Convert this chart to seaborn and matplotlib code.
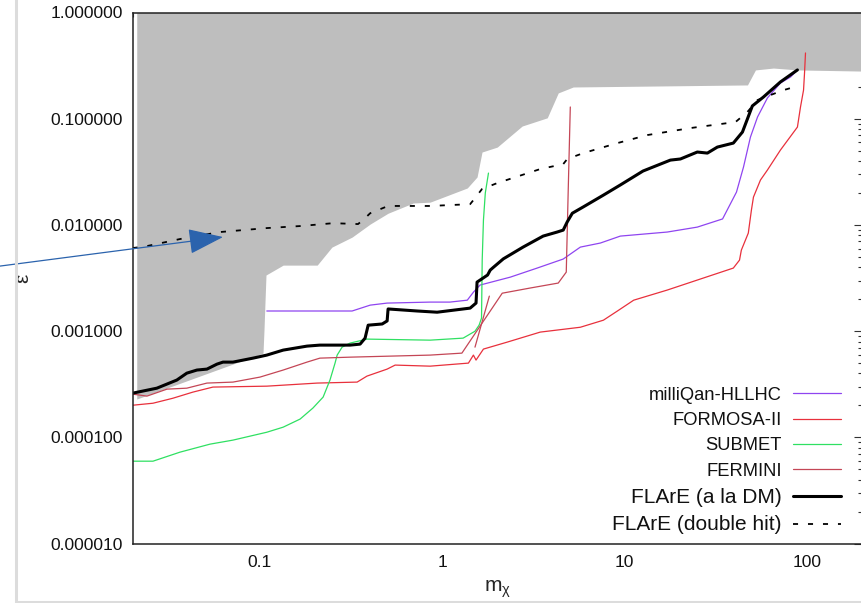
import numpy as np
import matplotlib
matplotlib.use("Agg")
import matplotlib.pyplot as plt
from matplotlib.ticker import LogLocator, NullFormatter
from matplotlib.lines import Line2D
import seaborn as sns

# ---------------------------------------------------------------- data
# already-excluded region (grey): lower boundary, filled up to eps = 1
excl_mass = [0.0211, 0.1039, 0.1052, 0.1065, 0.1079, 0.134, 0.206, 0.248, 0.320,
             0.402, 0.504, 0.692, 0.857, 1.37, 1.55, 1.65, 2.00, 2.74, 3.76, 4.32,
             5.22, 47.1, 52.1, 65.4, 88.5, 200.0]
excl_eps = [0.000230, 0.000622, 0.00102, 0.00184, 0.00338, 0.00419, 0.00419,
            0.00619, 0.00769, 0.0102, 0.0129, 0.0161, 0.0164, 0.0223, 0.0283,
            0.0486, 0.0541, 0.0854, 0.102, 0.175, 0.199, 0.208, 0.288, 0.300,
            0.288, 0.281]

milliqan_mass = [0.109, 0.320, 0.402, 0.498, 0.857, 1.10, 1.37, 1.48, 1.61, 2.36,
                 3.31, 4.60, 5.71, 7.35, 9.46, 17.1, 25.0, 34.4, 41.0, 44.8, 48.9,
                 53.5, 60.6, 71.4, 81.1, 88.5]
milliqan_eps = [0.00155, 0.00155, 0.00176, 0.00184, 0.00188, 0.00188, 0.00196,
                0.00233, 0.00272, 0.00323, 0.00393, 0.00478, 0.00619, 0.00676,
                0.00786, 0.00858, 0.00955, 0.0114, 0.0204, 0.0351, 0.0672, 0.104,
                0.157, 0.217, 0.247, 0.288]

formosa_mass = [0.020, 0.0259, 0.0333, 0.0428, 0.0552, 0.109, 0.206, 0.341, 0.386,
                0.498, 0.551, 0.857, 1.39, 1.48, 1.53, 1.68, 2.27, 3.44, 5.71, 7.64,
                9.12, 11.2, 17.1, 26.0, 39.4, 42.6, 43.6, 47.6, 49.5, 50.8, 55.5,
                60.6, 71.4, 88.5, 92.0, 95.6, 96.8, 98.0]
formosa_eps = [0.000201, 0.000210, 0.000234, 0.000267, 0.000298, 0.000304,
               0.000325, 0.000332, 0.000378, 0.000440, 0.000480, 0.000469,
               0.000501, 0.000596, 0.000535, 0.000679, 0.000790, 0.000981,
               0.00109, 0.00127, 0.00155, 0.00196, 0.00244, 0.00310, 0.00393,
               0.00467, 0.00580, 0.00839, 0.0138, 0.0183, 0.0265, 0.0329, 0.0507,
               0.0835, 0.129, 0.186, 0.269, 0.416]

submet_mass = [0.020, 0.0259, 0.0364, 0.0532, 0.0711, 0.109, 0.134, 0.166, 0.195,
               0.222, 0.242, 0.258, 0.265, 0.282, 0.312, 0.386, 0.857, 1.30, 1.51,
               1.59, 1.64, 1.654, 1.68, 1.72, 1.79]
submet_eps = [0.0000598, 0.0000598, 0.0000727, 0.0000865, 0.0000944, 0.000112,
              0.000125, 0.000149, 0.000189, 0.000240, 0.000347, 0.000501,
              0.000596, 0.000708, 0.000773, 0.000843, 0.000824, 0.000861,
              0.00100, 0.00114, 0.00133, 0.00467, 0.0111, 0.0200, 0.0308]

fermini_mass = [0.020, 0.0240, 0.0309, 0.0397, 0.0512, 0.0711, 0.100, 0.134, 0.181,
                0.213, 0.312, 0.857, 1.28, 2.13, 3.03, 4.32, 4.78, 4.90, 5.03]
fermini_eps = [0.000256, 0.000245, 0.000285, 0.000291, 0.000325, 0.000332,
               0.000370, 0.000431, 0.000512, 0.000558, 0.000570, 0.000596,
               0.000622, 0.00228, 0.00255, 0.00284, 0.00360, 0.0213, 0.129]
fermini_branch_mass = [1.51, 1.81]
fermini_branch_eps = [0.000708, 0.00214]

flare_dm_mass = [0.020, 0.0272, 0.0350, 0.0397, 0.0451, 0.0512, 0.0581, 0.0627,
                 0.0711, 0.0916, 0.109, 0.134, 0.181, 0.213, 0.312, 0.354, 0.377,
                 0.392, 0.468, 0.498, 0.504, 0.728, 0.936, 1.42, 1.53, 1.55, 1.77,
                 1.83, 1.90, 2.16, 2.77, 3.57, 4.26, 4.60, 4.84, 5.16, 5.93, 7.64,
                 9.46, 12.6, 17.8, 20.2, 25.0, 28.4, 32.2, 39.4, 44.2, 50.1, 57.6,
                 71.4, 88.5]
flare_dm_eps = [0.000261, 0.000291, 0.000347, 0.000403, 0.000431, 0.000440,
                0.000490, 0.000512, 0.000512, 0.000558, 0.000596, 0.000664,
                0.000724, 0.000740, 0.000740, 0.000756, 0.000861, 0.00114,
                0.00117, 0.00125, 0.00162, 0.00155, 0.00151, 0.00165, 0.00184,
                0.00290, 0.00338, 0.00376, 0.00398, 0.00480, 0.00619, 0.00786,
                0.00858, 0.00895, 0.0107, 0.0129, 0.0148, 0.0191, 0.0238, 0.0322,
                0.0408, 0.0418, 0.0486, 0.0475, 0.0541, 0.0590, 0.0749, 0.132,
                0.160, 0.222, 0.288]

flare_dh_mass = [0.020, 0.0240, 0.0364, 0.0603, 0.109, 0.166, 0.252, 0.345, 0.377,
                 0.402, 0.504, 0.857, 1.42, 1.51, 1.65, 2.00, 3.44, 4.60, 4.84,
                 5.93, 9.12, 13.3, 22.9, 40.5, 47.1, 53.5, 62.9, 74.3, 88.5]
flare_dh_eps = [0.00606, 0.00633, 0.00737, 0.00858, 0.00935, 0.00977, 0.0104,
                0.0102, 0.0116, 0.0129, 0.0151, 0.0151, 0.0157, 0.0179, 0.0218,
                0.0248, 0.0336, 0.0374, 0.0418, 0.0475, 0.0590, 0.0702, 0.0817,
                0.0931, 0.116, 0.150, 0.167, 0.186, 0.203]

x_ticks = [0.1, 1, 10, 100]
x_tick_labels = ["0.1", "1", "10", "100"]
y_ticks = [1e-5, 1e-4, 1e-3, 1e-2, 1e-1, 1.0]
y_tick_labels = ["0.000010", "0.000100", "0.001000", "0.010000", "0.100000", "1.000000"]

arrow_tail = (0.00374, 0.0041)
arrow_tip = (0.0627, 0.0077)

# ---------------------------------------------------------------- style
sns.set_style("white")
plt.rcParams["font.family"] = ["Liberation Sans", "DejaVu Sans"]
plt.rcParams["mathtext.fontset"] = "custom"
plt.rcParams["mathtext.rm"] = "Liberation Sans"
plt.rcParams["mathtext.it"] = "Liberation Sans"

W, H = 861, 603
fig = plt.figure(figsize=(W / 100, H / 100), dpi=100)
fig.patch.set_facecolor("white")
ax = fig.add_axes([132.5 / W, (H - 543.7) / H, (862 - 132.5) / W, (543.7 - 12.5) / H])
ax.set_facecolor("white")

ax.set_xscale("log")
ax.set_yscale("log")
ax.set_xlim(0.02, 200)
ax.set_ylim(1e-5, 1.0)

# grey excluded region, drawn above the axis ticks
ax.set_axisbelow(True)
ax.fill_between(excl_mass, excl_eps, 1.0, color="#bebebe", lw=0, zorder=1)

line_kw = dict(ax=ax, estimator=None, sort=False)
sns.lineplot(x=milliqan_mass, y=milliqan_eps, color="#8f45f0", lw=0.9,
             label="milliQan-HLLHC", zorder=2, **line_kw)
sns.lineplot(x=formosa_mass, y=formosa_eps, color="#e8303c", lw=0.9,
             label="FORMOSA-II", zorder=2, **line_kw)
sns.lineplot(x=submet_mass, y=submet_eps, color="#2fe062", lw=0.9,
             label="SUBMET", zorder=2, **line_kw)
sns.lineplot(x=fermini_mass, y=fermini_eps, color="#c44656", lw=0.9,
             label="FERMINI", zorder=2, **line_kw)
sns.lineplot(x=fermini_branch_mass, y=fermini_branch_eps, color="#c44656", lw=0.9,
             zorder=2, **line_kw)
sns.lineplot(x=flare_dm_mass, y=flare_dm_eps, color="black", lw=2.2,
             label="FLArE (a la DM)", zorder=3, **line_kw)
sns.lineplot(x=flare_dh_mass, y=flare_dh_eps, color="black", lw=1.3,
             linestyle=(0, (2.8, 5.5)), label="FLArE (double hit)", zorder=3,
             **line_kw)

# ticks
ax.set_xticks(x_ticks)
ax.set_xticklabels(x_tick_labels)
ax.set_yticks(y_ticks)
ax.set_yticklabels(y_tick_labels)
ax.xaxis.set_minor_locator(LogLocator(base=10, subs=np.arange(2, 10)))
ax.yaxis.set_minor_locator(LogLocator(base=10, subs=np.arange(2, 10)))
ax.xaxis.set_minor_formatter(NullFormatter())
ax.yaxis.set_minor_formatter(NullFormatter())
ax.tick_params(which="both", direction="in", top=True, right=True,
               color="#333333", width=0.8, labelsize=12.5, labelcolor="#111111")
ax.tick_params(which="major", length=5.8)
ax.tick_params(which="minor", length=3.2)
ax.tick_params(axis="y", pad=7)
ax.tick_params(axis="x", pad=8)

for side, sp in ax.spines.items():
    sp.set_color("#222222")
    sp.set_linewidth(1.1)
    sp.set_zorder(4)

ax.set_xlabel(r"m$_{\chi}$", fontsize=15, labelpad=6)
ax.set_ylabel("ε", fontsize=15, labelpad=13)

# arrow pointing at the double-hit curve
ax.annotate("", xy=arrow_tip, xytext=arrow_tail, annotation_clip=False,
            arrowprops=dict(arrowstyle="-|>,head_length=1.1,head_width=0.4",
                            mutation_scale=20, color="#2b63ad", lw=0.9,
                            shrinkA=0, shrinkB=0), zorder=6)

# legend: labels right-aligned, keys on the right
leg = ax.legend(loc="lower right", bbox_to_anchor=(0.9712, 0.018), frameon=False,
                markerfirst=False, fontsize=13.2, handlelength=2.62,
                handletextpad=0.6, labelspacing=0.45, borderpad=0,
                borderaxespad=0)
for t in leg.get_texts()[4:]:
    t.set_fontsize(15)
for t in leg.get_texts():
    t.set_color("#111111")

# light frame around the figure
fig.add_artist(Line2D([16 / W, 16 / W], [(H - 601.5) / H, 1.0],
                      transform=fig.transFigure, color="#dcdcdc", lw=2.2))
fig.add_artist(Line2D([16 / W, 1.0], [(H - 601.5) / H, (H - 601.5) / H],
                      transform=fig.transFigure, color="#dcdcdc", lw=2.2))

fig.savefig("out.png", dpi=100)
